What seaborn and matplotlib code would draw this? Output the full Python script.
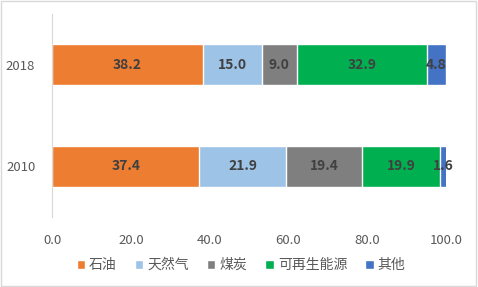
import numpy as np
import pandas as pd
import matplotlib
matplotlib.use("Agg")
import matplotlib.pyplot as plt
import seaborn as sns
from matplotlib.patches import Rectangle

sns.set_style("white")
plt.rcParams["font.family"] = ["Noto Sans CJK SC", "DejaVu Sans"]

# data
years = ["2018", "2010"]
sources = ["石油", "天然气", "煤炭", "可再生能源", "其他"]
oil = [38.2, 37.4]
gas = [15.0, 21.9]
coal = [9.0, 19.4]
renew = [32.9, 19.9]
other = [4.8, 1.6]
colors = ["#ED7D31", "#9DC3E6", "#7F7F7F", "#00B050", "#4472C4"]

series = [oil, gas, coal, renew, other]
cum = np.cumsum(np.array(series), axis=0)

fig = plt.figure(figsize=(4.78, 2.87), dpi=100)
ax = fig.add_axes([52 / 478, 1 - 217 / 287, 394 / 478, 203 / 287])

# stacked bars: draw cumulative totals from last to first
for i in reversed(range(len(sources))):
    df = pd.DataFrame({"year": years, "value": cum[i]})
    sns.barplot(data=df, x="value", y="year", orient="h", color=colors[i],
                width=0.4, saturation=1, ax=ax, label=sources[i])

# data labels
for i in range(len(sources)):
    for j, y in enumerate(years):
        v = series[i][j]
        ax.text(cum[i][j] - v / 2, j, f"{v:.1f}", ha="center", va="center",
                fontsize=10, fontweight="bold", color="#404040")

ax.set_xlim(0, 100)
ax.set_ylim(1.5, -0.5)
ax.set_xticks(np.arange(0, 101, 20))
ax.set_xticklabels([f"{t:.1f}" for t in np.arange(0, 101, 20)])
ax.set_xlabel("")
ax.set_ylabel("")
ax.tick_params(axis="both", length=0, labelsize=9.5, colors="#595959")
ax.tick_params(axis="x", pad=12)
ax.tick_params(axis="y", pad=12)
for s in ["top", "right", "bottom"]:
    ax.spines[s].set_visible(False)
ax.spines["left"].set_color("#D9D9D9")

handles, labels = ax.get_legend_handles_labels()
order = [labels.index(s) for s in sources]
ax.legend([handles[k] for k in order], sources, loc="center",
          bbox_to_anchor=(0.5 * (400 + 82) / 478, 1 - 265 / 287),
          bbox_transform=fig.transFigure, ncol=5, frameon=False,
          fontsize=10, handlelength=0.6, handleheight=0.6, handletextpad=0.3,
          columnspacing=1.3, labelcolor="#595959")

fig.add_artist(Rectangle((0.002, 0.003), 0.994, 0.994, transform=fig.transFigure,
                         fill=False, edgecolor="#D9D9D9", linewidth=1))

fig.savefig("out.png", dpi=100)
